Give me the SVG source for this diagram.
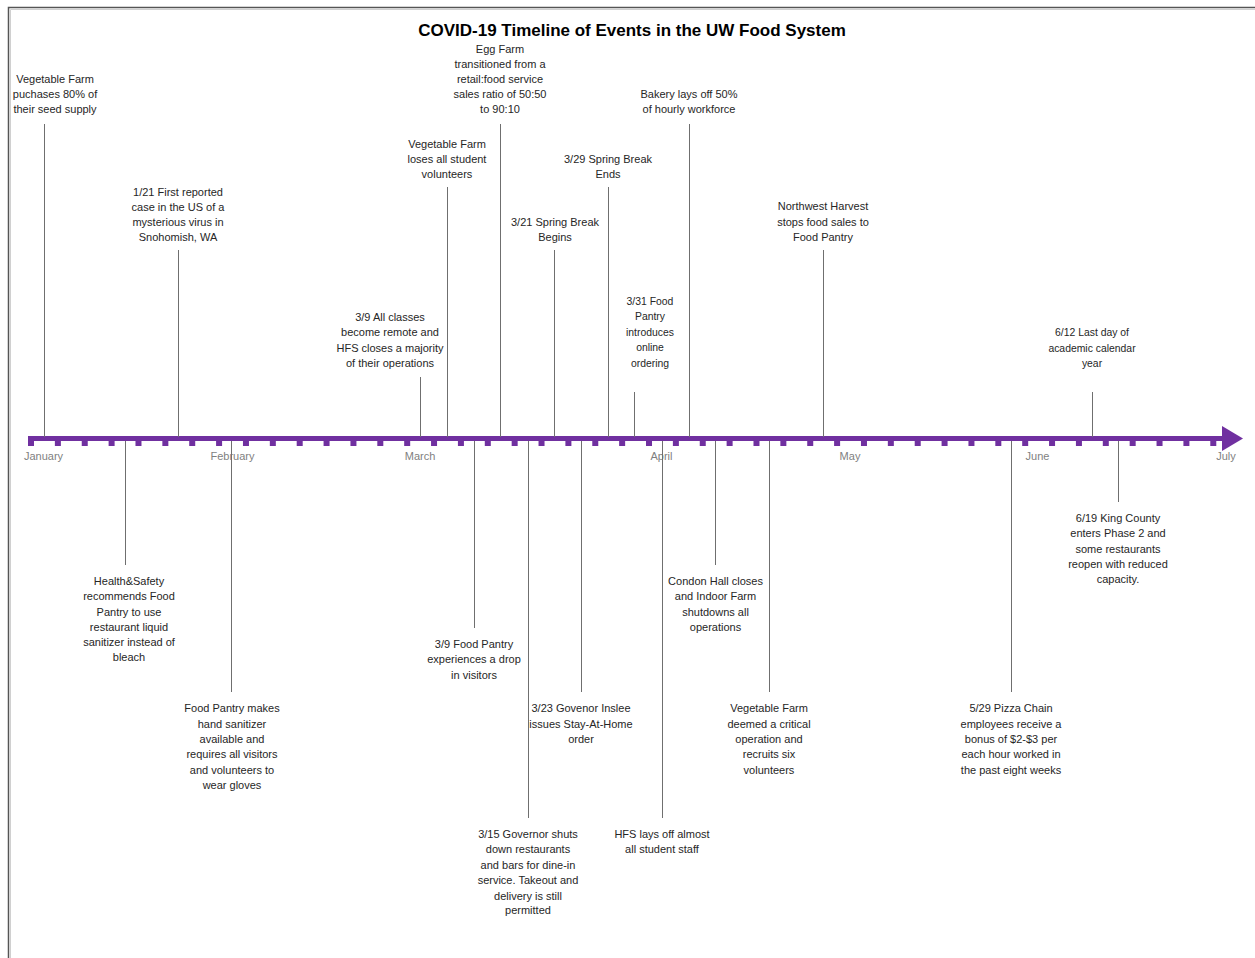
<svg xmlns="http://www.w3.org/2000/svg" width="1255" height="958" viewBox="0 0 1255 958">
<style>
  .t { font-family: "Liberation Sans", Arial, sans-serif; font-size: 11px; fill: #262626; text-anchor: middle; }
  .n { font-size: 10.4px; }
  .m { font-family: "Liberation Sans", Arial, sans-serif; font-size: 11px; fill: #7f7f7f; text-anchor: middle; }
  .title { font-family: "Liberation Sans", Arial, sans-serif; font-size: 17px; font-weight: bold; fill: #000; text-anchor: middle; }
  .c { stroke: #6f6f6f; stroke-width: 1; fill: none; }
  .tick { fill: #7030A0; }
</style>
<defs>
  <rect id="tk" x="-3" y="438" width="6" height="8" class="tick"/>
</defs>
<rect x="0" y="0" width="1255" height="958" fill="#ffffff"/>
<g id="frame">
  <path d="M8.5,958 V7.5 H1255" fill="none" stroke="#555555" stroke-width="1.5"/>
  <path d="M10.5,958 V9.5 H1255" fill="none" stroke="#d0d0d0" stroke-width="1"/>
</g>
<text class="title" x="632" y="36">COVID-19 Timeline of Events in the UW Food System</text>

<g id="axis">
  <line x1="28" y1="438.5" x2="1225" y2="438.5" stroke="#7030A0" stroke-width="5"/>
  <polygon points="1222,426 1243,438.5 1222,451" fill="#7030A0"/>
  <use href="#tk" x="31"/><use href="#tk" x="57.87"/><use href="#tk" x="84.74"/><use href="#tk" x="111.61"/><use href="#tk" x="138.48"/>
  <use href="#tk" x="165.35"/><use href="#tk" x="192.22"/><use href="#tk" x="219.09"/><use href="#tk" x="245.96"/><use href="#tk" x="272.83"/>
  <use href="#tk" x="299.7"/><use href="#tk" x="326.57"/><use href="#tk" x="353.44"/><use href="#tk" x="380.31"/><use href="#tk" x="407.18"/>
  <use href="#tk" x="434.05"/><use href="#tk" x="460.92"/><use href="#tk" x="487.79"/><use href="#tk" x="514.66"/><use href="#tk" x="541.53"/>
  <use href="#tk" x="568.4"/><use href="#tk" x="595.27"/><use href="#tk" x="622.14"/><use href="#tk" x="649.01"/><use href="#tk" x="675.88"/>
  <use href="#tk" x="702.75"/><use href="#tk" x="729.62"/><use href="#tk" x="756.49"/><use href="#tk" x="783.36"/><use href="#tk" x="810.23"/>
  <use href="#tk" x="837.1"/><use href="#tk" x="863.97"/><use href="#tk" x="890.84"/><use href="#tk" x="917.71"/><use href="#tk" x="944.58"/>
  <use href="#tk" x="971.45"/><use href="#tk" x="998.32"/><use href="#tk" x="1025.19"/><use href="#tk" x="1052.06"/><use href="#tk" x="1078.93"/>
  <use href="#tk" x="1105.8"/><use href="#tk" x="1132.67"/><use href="#tk" x="1159.54"/><use href="#tk" x="1186.41"/><use href="#tk" x="1213.28"/>
</g>

<g id="months">
  <text class="m" x="43.5" y="460">January</text>
  <text class="m" x="232.5" y="460">February</text>
  <text class="m" x="420" y="460">March</text>
  <text class="m" x="661.5" y="460">April</text>
  <text class="m" x="850" y="460">May</text>
  <text class="m" x="1037.5" y="460">June</text>
  <text class="m" x="1226" y="460">July</text>
</g>

<g id="connectors">
  <line class="c" x1="44.5" y1="124" x2="44.5" y2="437"/>
  <line class="c" x1="178.5" y1="250" x2="178.5" y2="437"/>
  <line class="c" x1="500.5" y1="124" x2="500.5" y2="437"/>
  <line class="c" x1="447.5" y1="187" x2="447.5" y2="437"/>
  <line class="c" x1="420.5" y1="377" x2="420.5" y2="437"/>
  <line class="c" x1="554.5" y1="250" x2="554.5" y2="437"/>
  <line class="c" x1="608.5" y1="187" x2="608.5" y2="437"/>
  <line class="c" x1="689.5" y1="124" x2="689.5" y2="437"/>
  <line class="c" x1="634.5" y1="392" x2="634.5" y2="437"/>
  <line class="c" x1="823.5" y1="250" x2="823.5" y2="437"/>
  <line class="c" x1="1092.5" y1="392" x2="1092.5" y2="437"/>
  <line class="c" x1="125.5" y1="441" x2="125.5" y2="565"/>
  <line class="c" x1="231.5" y1="441" x2="231.5" y2="692"/>
  <line class="c" x1="474.5" y1="441" x2="474.5" y2="628"/>
  <line class="c" x1="528.5" y1="441" x2="528.5" y2="818"/>
  <line class="c" x1="581.5" y1="441" x2="581.5" y2="692"/>
  <line class="c" x1="662.5" y1="441" x2="662.5" y2="818"/>
  <line class="c" x1="715.5" y1="441" x2="715.5" y2="565"/>
  <line class="c" x1="769.5" y1="441" x2="769.5" y2="692"/>
  <line class="c" x1="1011.5" y1="441" x2="1011.5" y2="692"/>
  <line class="c" x1="1118.5" y1="441" x2="1118.5" y2="502"/>
</g>

<g id="e1"><text class="t"><tspan x="55" y="83">Vegetable Farm</tspan><tspan x="55" y="98">puchases 80% of</tspan><tspan x="55" y="113">their seed supply</tspan></text></g>
<g id="e2"><text class="t"><tspan x="178" y="196">1/21 First reported</tspan><tspan x="178" y="211">case in the US of a</tspan><tspan x="178" y="226">mysterious virus in</tspan><tspan x="178" y="241">Snohomish, WA</tspan></text></g>
<g id="e3"><text class="t"><tspan x="500" y="53">Egg Farm</tspan><tspan x="500" y="68">transitioned from a</tspan><tspan x="500" y="83">retail:food service</tspan><tspan x="500" y="98">sales ratio of 50:50</tspan><tspan x="500" y="113">to 90:10</tspan></text></g>
<g id="e4"><text class="t"><tspan x="447" y="148">Vegetable Farm</tspan><tspan x="447" y="163">loses all student</tspan><tspan x="447" y="178">volunteers</tspan></text></g>
<g id="e5"><text class="t"><tspan x="390" y="321">3/9 All classes</tspan><tspan x="390" y="336">become remote and</tspan><tspan x="390" y="352">HFS closes a majority</tspan><tspan x="390" y="367">of their operations</tspan></text></g>
<g id="e6"><text class="t"><tspan x="555" y="226">3/21 Spring Break</tspan><tspan x="555" y="241">Begins</tspan></text></g>
<g id="e7"><text class="t"><tspan x="608" y="163">3/29 Spring Break</tspan><tspan x="608" y="178">Ends</tspan></text></g>
<g id="e8"><text class="t"><tspan x="689" y="98">Bakery lays off 50%</tspan><tspan x="689" y="113">of hourly workforce</tspan></text></g>
<g id="e9"><text class="t n"><tspan x="650" y="305">3/31 Food</tspan><tspan x="650" y="320">Pantry</tspan><tspan x="650" y="336">introduces</tspan><tspan x="650" y="351">online</tspan><tspan x="650" y="367">ordering</tspan></text></g>
<g id="e10"><text class="t"><tspan x="823" y="210">Northwest Harvest</tspan><tspan x="823" y="226">stops food sales to</tspan><tspan x="823" y="241">Food Pantry</tspan></text></g>
<g id="e11"><text class="t n"><tspan x="1092" y="336">6/12 Last day of</tspan><tspan x="1092" y="352">academic calendar</tspan><tspan x="1092" y="367">year</tspan></text></g>
<g id="e12"><text class="t"><tspan x="129" y="585">Health&amp;Safety</tspan><tspan x="129" y="600">recommends Food</tspan><tspan x="129" y="616">Pantry to use</tspan><tspan x="129" y="631">restaurant liquid</tspan><tspan x="129" y="646">sanitizer instead of</tspan><tspan x="129" y="661">bleach</tspan></text></g>
<g id="e13"><text class="t"><tspan x="232" y="712">Food Pantry makes</tspan><tspan x="232" y="728">hand sanitizer</tspan><tspan x="232" y="743">available and</tspan><tspan x="232" y="758">requires all visitors</tspan><tspan x="232" y="774">and volunteers to</tspan><tspan x="232" y="789">wear gloves</tspan></text></g>
<g id="e14"><text class="t"><tspan x="474" y="648">3/9 Food Pantry</tspan><tspan x="474" y="663">experiences a drop</tspan><tspan x="474" y="679">in visitors</tspan></text></g>
<g id="e15"><text class="t"><tspan x="528" y="838">3/15 Governor shuts</tspan><tspan x="528" y="853">down restaurants</tspan><tspan x="528" y="869">and bars for dine-in</tspan><tspan x="528" y="884">service. Takeout and</tspan><tspan x="528" y="900">delivery is still</tspan><tspan x="528" y="914">permitted</tspan></text></g>
<g id="e16"><text class="t"><tspan x="581" y="712">3/23 Govenor Inslee</tspan><tspan x="581" y="728">issues Stay-At-Home</tspan><tspan x="581" y="743">order</tspan></text></g>
<g id="e17"><text class="t"><tspan x="662" y="838">HFS lays off almost</tspan><tspan x="662" y="853">all student staff</tspan></text></g>
<g id="e18"><text class="t"><tspan x="715.5" y="585">Condon Hall closes</tspan><tspan x="715.5" y="600">and Indoor Farm</tspan><tspan x="715.5" y="616">shutdowns all</tspan><tspan x="715.5" y="631">operations</tspan></text></g>
<g id="e19"><text class="t"><tspan x="769" y="712">Vegetable Farm</tspan><tspan x="769" y="728">deemed a critical</tspan><tspan x="769" y="743">operation and</tspan><tspan x="769" y="758">recruits six</tspan><tspan x="769" y="774">volunteers</tspan></text></g>
<g id="e20"><text class="t"><tspan x="1011" y="712">5/29 Pizza Chain</tspan><tspan x="1011" y="728">employees receive a</tspan><tspan x="1011" y="743">bonus of $2-$3 per</tspan><tspan x="1011" y="758">each hour worked in</tspan><tspan x="1011" y="774">the past eight weeks</tspan></text></g>
<g id="e21"><text class="t"><tspan x="1118" y="522">6/19 King County</tspan><tspan x="1118" y="537">enters Phase 2 and</tspan><tspan x="1118" y="553">some restaurants</tspan><tspan x="1118" y="568">reopen with reduced</tspan><tspan x="1118" y="583">capacity.</tspan></text></g>
</svg>
